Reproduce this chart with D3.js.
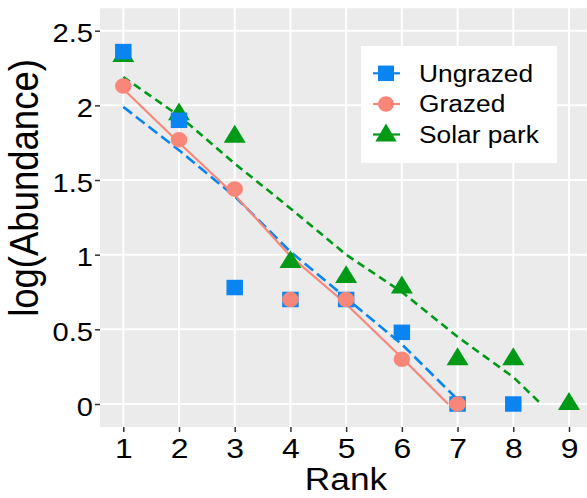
<!DOCTYPE html>
<html>
<head>
<meta charset="utf-8">
<script src="https://cdn.jsdelivr.net/npm/d3@7"></script>
<style>
  html, body { margin: 0; padding: 0; background: #ffffff; }
  svg { display: block; }
  text { font-family: "Liberation Sans", Arial, Helvetica, sans-serif; fill: #000; }
</style>
</head>
<body>
<script>
// ---- data ----
const seriesNames = ["Ungrazed", "Grazed", "Solar park"];
const ungrazedRank = [1, 2, 3, 4, 5, 6, 7, 8];
const ungrazedValue = [2.36, 1.90, 0.78, 0.70, 0.70, 0.48, 0, 0];
const grazedRank = [1, 2, 3, 4, 5, 6, 7];
const grazedValue = [2.13, 1.77, 1.44, 0.70, 0.70, 0.30, 0];
const solarRank = [1, 2, 3, 4, 5, 6, 7, 8, 9];
const solarValue = [2.33, 1.94, 1.79, 0.95, 0.85, 0.78, 0.30, 0.30, 0];

// fitted lines
const ungrazedFitRank = [1, 2, 3, 4, 5, 6, 7];
const ungrazedFitValue = [1.99, 1.70, 1.39, 1.02, 0.71, 0.40, 0.03];
const grazedFitRank = [1, 2, 3, 4, 5, 6, 6.83];
const grazedFitValue = [2.11, 1.75, 1.40, 0.99, 0.67, 0.31, 0];
const solarFitRank = [1, 2, 3, 4, 5, 6, 7, 8, 8.5];
const solarFitValue = [2.19, 1.93, 1.61, 1.31, 1.00, 0.75, 0.45, 0.18, 0];

const xTicks = [1, 2, 3, 4, 5, 6, 7, 8, 9];
const yTicks = [0, 0.5, 1, 1.5, 2, 2.5];
const yTickLabels = ["0", "0.5", "1", "1.5", "2", "2.5"];
const xTitle = "Rank";
const yTitle = "log(Abundance)";

// ---- layout ----
const W = 587, H = 498;
const SX = 1.12; // horizontal stretch of the reference
const panel = { left: 100, top: 8.3, right: 600, bottom: 427 };
const colors = { "Ungrazed": "#0a84f0", "Grazed": "#f8877a", "Solar park": "#009a16" };

const x = d3.scaleLinear().domain([1, 9]).range([123.3, 569]);
const y = d3.scaleLinear().domain([0, 2.5]).range([404, 30.7]);

const svg = d3.select("body").append("svg").attr("width", W).attr("height", H);

// panel
svg.append("rect")
  .attr("x", panel.left).attr("y", panel.top)
  .attr("width", panel.right - panel.left).attr("height", panel.bottom - panel.top)
  .attr("fill", "#ebebeb");

// grid
svg.append("g").selectAll("line").data(yTicks).join("line")
  .attr("x1", panel.left).attr("x2", panel.right)
  .attr("y1", d => y(d)).attr("y2", d => y(d))
  .attr("stroke", "#fff").attr("stroke-width", 2);
svg.append("g").selectAll("line").data(xTicks).join("line")
  .attr("y1", panel.top).attr("y2", panel.bottom)
  .attr("x1", d => x(d)).attr("x2", d => x(d))
  .attr("stroke", "#fff").attr("stroke-width", 2);

// axes
const yAxis = svg.append("g").attr("transform", `translate(${panel.left},0)`)
  .call(d3.axisLeft(y).tickValues(yTicks).tickFormat((d, i) => yTickLabels[i]).tickSize(5).tickSizeOuter(0));
yAxis.select(".domain").remove();
yAxis.selectAll(".tick line").attr("stroke", "#333").attr("stroke-width", 1.5);
yAxis.selectAll(".tick text")
  .attr("x", null).attr("dy", null)
  .attr("transform", "translate(-7,11) scale(" + SX + ",1)")
  .attr("font-size", 26).attr("fill", "#000")
  .style("font-family", "'Liberation Sans', Arial, sans-serif");

const xAxis = svg.append("g").attr("transform", `translate(0,${panel.bottom})`)
  .call(d3.axisBottom(x).tickValues(xTicks).tickFormat(d3.format("d")).tickSize(5).tickSizeOuter(0));
xAxis.select(".domain").remove();
xAxis.selectAll(".tick line").attr("stroke", "#333").attr("stroke-width", 1.5);
xAxis.selectAll(".tick text")
  .attr("y", null).attr("dy", null)
  .attr("transform", "translate(0,31.3) scale(" + SX + ",1)")
  .attr("font-size", 28.5).attr("fill", "#000")
  .style("font-family", "'Liberation Sans', Arial, sans-serif");

// titles
svg.append("text")
  .attr("transform", `translate(346,490) scale(${SX},1)`)
  .attr("text-anchor", "middle").attr("font-size", 31.5).text(xTitle);
svg.append("text")
  .attr("transform", `translate(38,188) scale(${SX},1) rotate(-90)`)
  .attr("text-anchor", "middle").attr("font-size", 36.5).text(yTitle);

// fitted lines
const lineGen = d3.line().x(d => x(d[0])).y(d => y(d[1]));
const fits = [
  { name: "Solar park", r: solarFitRank, v: solarFitValue, dash: "8,5", w: 2.6 },
  { name: "Ungrazed", r: ungrazedFitRank, v: ungrazedFitValue, dash: "11,5", w: 2.6 },
  { name: "Grazed", r: grazedFitRank, v: grazedFitValue, dash: null, w: 2.2 }
];
const plot = svg.append("g");
fits.forEach(f => {
  plot.append("path")
    .datum(f.r.map((r, i) => [r, f.v[i]]))
    .attr("d", lineGen)
    .attr("fill", "none")
    .attr("stroke", colors[f.name])
    .attr("stroke-width", f.w)
    .attr("stroke-dasharray", f.dash);
});

// points
const shapes = { "Ungrazed": d3.symbolSquare, "Grazed": d3.symbolCircle, "Solar park": d3.symbolTriangle };
const sizes = { "Ungrazed": 240, "Grazed": 190, "Solar park": 185 };
const pts = [
  { name: "Solar park", r: solarRank, v: solarValue },
  { name: "Ungrazed", r: ungrazedRank, v: ungrazedValue },
  { name: "Grazed", r: grazedRank, v: grazedValue }
];
pts.forEach(p => {
  plot.append("g").selectAll("path")
    .data(p.r.map((r, i) => [r, p.v[i]]))
    .join("path")
    .attr("d", d3.symbol().type(shapes[p.name]).size(sizes[p.name]))
    .attr("transform", d => `translate(${x(d[0])},${y(d[1])}) scale(${SX * 0.95},1)`)
    .attr("fill", colors[p.name]);
});

// legend
const lg = svg.append("g");
lg.append("rect").attr("x", 361).attr("y", 46).attr("width", 196).attr("height", 117).attr("fill", "#fff");
const rowY = [73.3, 104, 134.5];
seriesNames.forEach((name, i) => {
  const cy = rowY[i];
  lg.append("line").attr("x1", 373).attr("x2", 400).attr("y1", cy).attr("y2", cy)
    .attr("stroke", colors[name]).attr("stroke-width", 2.2);
  lg.append("path")
    .attr("d", d3.symbol().type(shapes[name]).size(sizes[name]))
    .attr("transform", `translate(386,${cy + (name === "Solar park" ? 1 : 0)}) scale(${SX * 0.92},1)`)
    .attr("fill", colors[name]);
  lg.append("text")
    .attr("transform", `translate(419,${cy + 8.4}) scale(${SX},1)`)
    .attr("font-size", 23.5).text(name);
});
</script>
</body>
</html>
